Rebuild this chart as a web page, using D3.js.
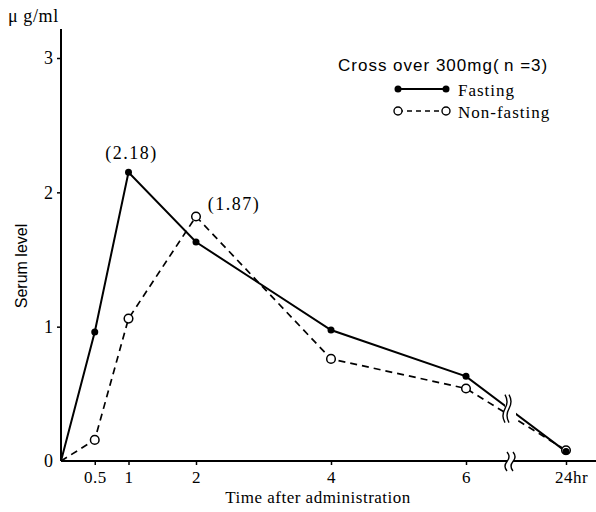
<!DOCTYPE html>
<html>
<head>
<meta charset="utf-8">
<script src="https://cdn.jsdelivr.net/npm/d3@7"></script>
<style>
	body{margin:0;background:#fff;}
	svg{display:block;}
	.axis-line{stroke:#000;stroke-width:2;fill:none;}
	.tick-line{stroke:#000;stroke-width:1.5;}
	.serif{font-family:"Liberation Serif","DejaVu Serif",serif;fill:#000;}
	.sans{font-family:"Liberation Sans","DejaVu Sans",sans-serif;fill:#000;}
	.fasting{stroke:#000;stroke-width:2;fill:none;}
	.nonfasting{stroke:#000;stroke-width:1.7;fill:none;stroke-dasharray:7,5;}
	.brk{stroke:#000;stroke-width:1.4;fill:none;}
</style>
</head>
<body>
<svg class="chart" width="596" height="512"></svg>
<script>
// data
var times = [0, 0.5, 1, 2, 4, 6, 24];
var fasting = [0, 0.96, 2.15, 1.63, 0.975, 0.63, 0.07];
var nonFasting = [0, 0.157, 1.06, 1.82, 0.76, 0.54, 0.08];
var xTicks = [0.5, 1, 2, 4, 6, 24];
var yTicks = [0, 1, 2, 3];
var peakLabels = [
	{t:1, v:2.15, label:'(2.18)', dx:3, dy:-13},
	{t:2, v:1.82, label:'(1.87)', dx:38, dy:-7}
];

var svg = d3.select('.chart');

// time axis is broken between 6 and 24 hr
var x = d3.scaleLinear().domain([0, 6, 24]).range([61, 466, 566]);
var y = d3.scaleLinear().domain([0, 3]).range([461, 58]);
var breakX = 510;

function squiggle(px, y0, y1){
	var h = y1 - y0;
	return 'M' + px + ',' + y0 +
		' q4,' + (h/4) + ' 0,' + (h/2) +
		' q-4,' + (h/4) + ' 0,' + (h/2);
}

// axes
svg.append('line').attr('class','axis-line')
	.attr('x1', x(0)).attr('y1', y(0)).attr('x2', breakX - 3).attr('y2', y(0));
svg.append('line').attr('class','axis-line')
	.attr('x1', breakX + 3).attr('y1', y(0)).attr('x2', 596).attr('y2', y(0));
svg.append('line').attr('class','axis-line')
	.attr('x1', x(0)).attr('y1', y(0)).attr('x2', x(0)).attr('y2', 29);

[breakX - 3, breakX + 3].forEach(function(px){
	svg.append('path').attr('class','brk').attr('d', squiggle(px, y(0) - 9, y(0) + 10));
});

var yAxis = d3.axisLeft(y).tickValues(yTicks).tickSize(4).tickFormat(d3.format('d'));
var gy = svg.append('g').attr('transform', 'translate(' + x(0) + ',0)').call(yAxis);
gy.select('.domain').remove();
gy.selectAll('.tick line').attr('class','tick-line');
gy.selectAll('.tick text').attr('class','serif').attr('font-size', 18).attr('x', -8);
gy.selectAll('.tick').filter(function(d){ return d === 0; }).select('line').remove();

var xAxis = d3.axisBottom(x).tickValues(xTicks).tickSize(4)
	.tickFormat(function(d){ return d === 24 ? '24hr' : d; });
var gx = svg.append('g').attr('transform', 'translate(0,' + y(0) + ')').call(xAxis);
gx.select('.domain').remove();
gx.selectAll('.tick line').attr('class','tick-line');
gx.selectAll('.tick text').attr('class','serif').attr('font-size', 17).attr('y', 10)
	.attr('letter-spacing', 0.5)
	.attr('dx', function(d){ return d === 24 ? 5 : 0; });

// axis titles
svg.append('text').attr('class','serif').attr('x', 8).attr('y', 22).attr('font-size', 18)
	.attr('letter-spacing', 0.6).text('\u03bc g/ml');
svg.append('text').attr('class','sans').attr('font-size', 16).attr('text-anchor','middle')
	.attr('transform', 'translate(27,266) rotate(-90)').text('Serum level');
svg.append('text').attr('class','serif').attr('x', 318).attr('y', 503).attr('font-size', 17)
	.attr('letter-spacing', 0.5).attr('text-anchor','middle').text('Time after administration');

// series lines, with a gap at the break
var clip = svg.append('defs').append('clipPath').attr('id', 'gap');
clip.append('rect').attr('x', 0).attr('y', 0).attr('width', breakX - 5).attr('height', 512);
clip.append('rect').attr('x', breakX + 6).attr('y', 0).attr('width', 596).attr('height', 512);

var line = d3.line()
	.x(function(d, i){ return x(times[i]); })
	.y(function(d){ return y(d); });

var gLines = svg.append('g').attr('clip-path', 'url(#gap)');
gLines.append('path').attr('class','nonfasting').attr('d', line(nonFasting));
gLines.append('path').attr('class','fasting').attr('d', line(fasting));

// break marks on the lines
function valueAt(series, px){
	var i = 5;
	var x0 = x(times[i]), x1 = x(times[i+1]);
	return y(series[i]) + (y(series[i+1]) - y(series[i])) * (px - x0) / (x1 - x0);
}
var yb = (valueAt(fasting, breakX) + valueAt(nonFasting, breakX)) / 2;
[breakX - 5, breakX - 1].forEach(function(px){
	svg.append('path').attr('class','brk').attr('d', squiggle(px, yb - 18, yb + 10));
});

// markers
svg.selectAll('.nf-pt').data(nonFasting).enter().append('circle')
	.attr('class','nf-pt')
	.attr('cx', function(d, i){ return x(times[i]); })
	.attr('cy', function(d){ return y(d); })
	.attr('r', 4.3).attr('fill', '#fff').attr('stroke', '#000').attr('stroke-width', 1.5)
	.filter(function(d, i){ return i === 0; }).remove();
svg.selectAll('.f-pt').data(fasting).enter().append('circle')
	.attr('class','f-pt')
	.attr('cx', function(d, i){ return x(times[i]); })
	.attr('cy', function(d){ return y(d); })
	.attr('r', 3.5).attr('fill', '#000')
	.filter(function(d, i){ return i === 0; }).remove();

// peak annotations
peakLabels.forEach(function(p){
	svg.append('text').attr('class','serif').attr('font-size', 18).attr('text-anchor','middle')
		.attr('letter-spacing', 1.5)
		.attr('x', x(p.t) + p.dx).attr('y', y(p.v) + p.dy).text(p.label);
});

// legend
var legend = svg.append('g').attr('transform', 'translate(338,0)');
legend.append('text').attr('class','sans').attr('x', 0).attr('y', 71).attr('font-size', 17)
	.attr('letter-spacing', 1).text('Cross over 300mg(\u2009n =3)');
var items = [
	{label:'Fasting', cls:'fasting', open:false, yy:89},
	{label:'Non-fasting', cls:'nonfasting', open:true, yy:111}
];
items.forEach(function(it){
	legend.append('line').attr('class', it.cls)
		.attr('x1', 60).attr('x2', 108).attr('y1', it.yy).attr('y2', it.yy)
		.style('stroke-dasharray', it.open ? '5,4' : null);
	[60, 108].forEach(function(cx){
		legend.append('circle').attr('cx', cx).attr('cy', it.yy)
			.attr('r', it.open ? 4 : 3.5)
			.attr('fill', it.open ? '#fff' : '#000')
			.attr('stroke', it.open ? '#000' : 'none').attr('stroke-width', 1.4);
	});
	legend.append('text').attr('class','serif').attr('x', 120).attr('y', it.yy + 7)
		.attr('font-size', 17).attr('letter-spacing', 1).text(it.label);
});
</script>
</body>
</html>
